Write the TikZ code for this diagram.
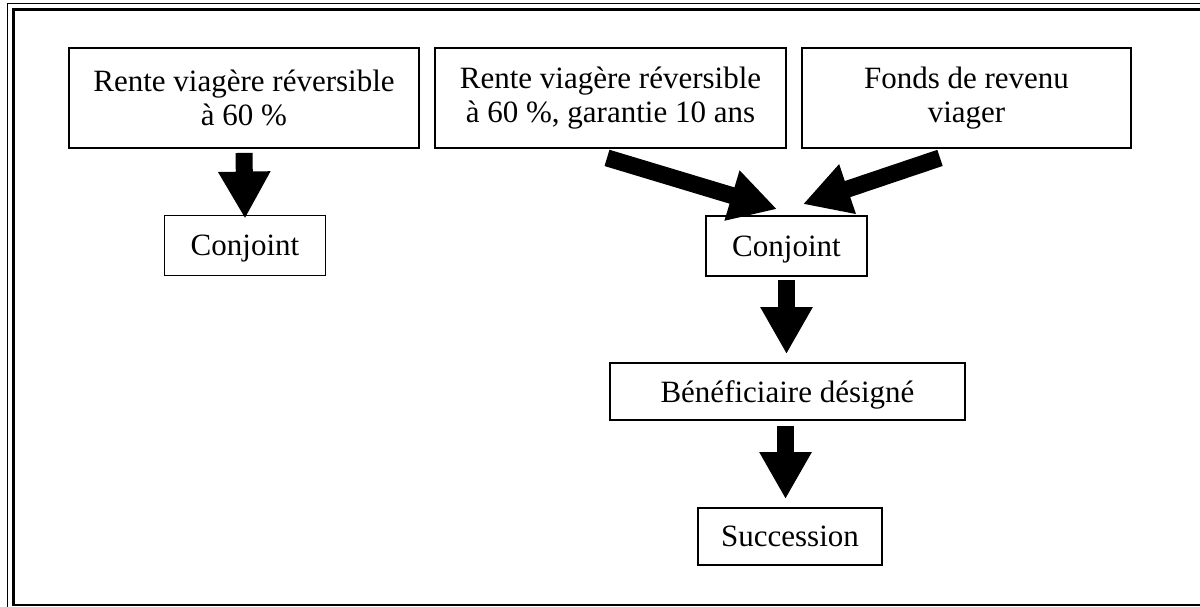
\documentclass[tikz,border=0pt]{standalone}
\usepackage{fontspec}
\setmainfont{Liberation Serif}
\usetikzlibrary{arrows.meta}
\tikzset{
  box/.style={draw, line width=1.8pt, inner sep=0pt, align=center,
    font=\fontsize{31}{34}\selectfont},
  onebox/.style={box, text depth=0pt},
  fat/.style={line width=17pt, -{Triangle[length=47pt,width=49pt]}},
  frameout/.style={line width=1.6pt},
  framein/.style={line width=2.6pt}
}
\begin{document}
\begin{tikzpicture}[x=1pt,y=-1pt]
\useasboundingbox (0,0) rectangle (1200,607);
% double frame (cut at right/bottom)
\draw[frameout] (1200,3.5) -- (7.5,3.5) -- (7.5,607);
\draw[framein] (1200,9.3) -- (13.7,9.3) -- (13.7,605) -- (1200,605);
% nodes
\node[box, minimum width=350pt, minimum height=100pt] (b1) at (244,98) {Rente viagère réversible\\à 60 \%};
\node[box, minimum width=351pt, minimum height=100pt] (b2) at (610.5,98) {Rente viagère réversible\\à 60 \%, garantie 10 ans};
\node[box, minimum width=329pt, minimum height=100pt] (b3) at (966.5,98) {Fonds de revenu\\viager};
\node[onebox, minimum width=161pt, minimum height=60pt] (c1) at (245,245.5) {Conjoint};
\node[onebox, minimum width=161pt, minimum height=60pt] (c2) at (786.5,246) {Conjoint};
\node[onebox, minimum width=355pt, minimum height=57pt] (ben) at (787.5,391.5) {Bénéficiaire désigné};
\node[onebox, minimum width=184pt, minimum height=57pt] (succ) at (790,536.5) {Succession};
% arrows
\draw[fat] ([yshift=-4pt]b1.south) -- ([yshift=-4pt]c1.north);
\draw[fat] ([shift={(-3.5pt,-9pt)}]b2.south) -- ([shift={(-9.5pt,6pt)}]c2.north);
\draw[fat] ([shift={(-26.5pt,-9pt)}]b3.south) -- ([shift={(16.5pt,11pt)}]c2.north);
\draw[fat] ([yshift=-3pt]c2.south) -- ([yshift=8pt]c2.south |- ben.north);
\draw[fat] ([shift={(-2pt,-5pt)}]ben.south) -- ([shift={(-2pt,8pt)}]ben.south |- succ.north);
\end{tikzpicture}
\end{document}
